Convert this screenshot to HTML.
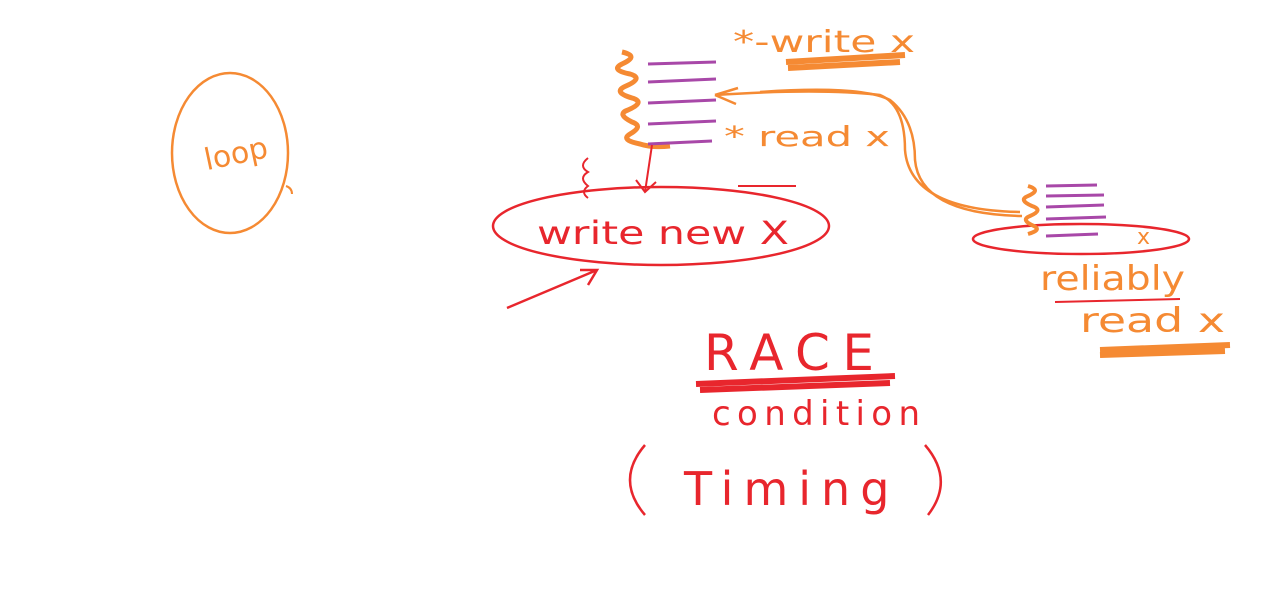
<!DOCTYPE html>
<html>
<head>
<meta charset="utf-8">
<style>
html,body{margin:0;padding:0;background:#fff;}
svg{display:block;}
.hand{font-family:"DejaVu Sans","Liberation Sans",sans-serif;font-weight:normal;}
</style>
</head>
<body>
<svg width="1268" height="590" viewBox="0 0 1268 590" xmlns="http://www.w3.org/2000/svg">
<rect width="1268" height="590" fill="#ffffff"/>

<g>
<ellipse cx="230" cy="153" rx="58" ry="80" fill="none" stroke="#f58a33" stroke-width="2.5"/>
<path d="M286 186 q6 2 6 8" fill="none" stroke="#f58a33" stroke-width="2"/>
<text x="203" y="165" class="hand" font-size="30" fill="#f58a33" transform="rotate(-12 230 150)">loop</text>
</g>

<g>
<path d="M622 52 q18 4 0 12 q-12 6 8 10 q14 4 -4 12 q-14 6 6 12 q14 4 -4 12 q-12 4 4 12 q12 4 -2 12 q-10 6 10 10 q12 4 30 2" fill="none" stroke="#f58a33" stroke-width="5"/>
<path d="M648 64 L716 62 M648 82 L716 79 M648 103 L716 100 M648 124 L716 121 M648 144 L712 141" fill="none" stroke="#a848a8" stroke-width="3"/>
</g>

<text x="733" y="52" class="hand" font-size="30" fill="#f58a33" textLength="182" lengthAdjust="spacingAndGlyphs">*-write x</text>
<path d="M786 62 L905 55 M788 68 L900 62" stroke="#f58a33" stroke-width="6"/>
<text x="724" y="146" class="hand" font-size="28" fill="#f58a33" textLength="166" lengthAdjust="spacingAndGlyphs">*  read x</text>

<g fill="none" stroke="#f58a33" stroke-width="2.5">
<path d="M715 95 Q820 88 880 95 Q905 105 905 150 Q910 210 1020 212"/>
<path d="M760 92 Q860 85 890 100 Q915 120 915 160 Q920 214 1022 216"/>
<path d="M715 95 L738 88 M715 95 L736 104"/>
</g>

<g>
<ellipse cx="661" cy="226" rx="168" ry="39" fill="none" stroke="#e8262d" stroke-width="2.5"/>
<path d="M738 186 L796 186" stroke="#e8262d" stroke-width="2"/>
<text x="537" y="244" class="hand" font-size="32" fill="#e8262d" textLength="252" lengthAdjust="spacingAndGlyphs">write new X</text>
<path d="M588 158 q-10 8 0 14 q-10 6 0 14 q-8 6 0 12" fill="none" stroke="#e8262d" stroke-width="2"/>
<path d="M652 145 L645 192 M636 180 L645 192 L656 182" fill="none" stroke="#e8262d" stroke-width="2"/>
<path d="M507 308 L597 270 M580 270 L597 270 L588 285" fill="none" stroke="#e8262d" stroke-width="2.5"/>
</g>

<g>
<ellipse cx="1081" cy="239" rx="108" ry="15" fill="none" stroke="#e8262d" stroke-width="2.5"/>
<path d="M1028 186 q14 4 0 10 q-10 4 4 10 q12 4 -2 10 q-10 4 4 10 q8 4 -6 8" fill="none" stroke="#f58a33" stroke-width="4"/>
<path d="M1046 186 L1097 185 M1046 196 L1104 195 M1046 207 L1104 205 M1046 219 L1106 217 M1046 236 L1098 234" stroke="#a848a8" stroke-width="3"/>
<text x="1137" y="244" class="hand" font-size="22" fill="#f58a33">x</text>
<text x="1040" y="290" class="hand" font-size="34" fill="#f58a33" textLength="145" lengthAdjust="spacingAndGlyphs">reliably</text>
<path d="M1055 302 L1180 299" stroke="#e8262d" stroke-width="2"/>
<text x="1080" y="332" class="hand" font-size="34" fill="#f58a33" textLength="145" lengthAdjust="spacingAndGlyphs">read x</text>
<path d="M1100 350 L1230 345 M1100 355 L1225 351" stroke="#f58a33" stroke-width="6"/>
</g>

<text x="704" y="370" class="hand" font-size="50" fill="#e8262d" textLength="170">RACE</text>
<path d="M696 384 L895 376 M700 390 L890 383" stroke="#e8262d" stroke-width="6"/>
<text x="712" y="425" class="hand" font-size="34" fill="#e8262d" textLength="208">condition</text>
<text x="684" y="505" class="hand" font-size="46" fill="#e8262d" letter-spacing="10">Timing</text>
<path d="M645 445 Q615 480 645 515" fill="none" stroke="#e8262d" stroke-width="2.5"/>
<path d="M925 445 Q955 480 928 515" fill="none" stroke="#e8262d" stroke-width="2.5"/>
</svg>
</body>
</html>
